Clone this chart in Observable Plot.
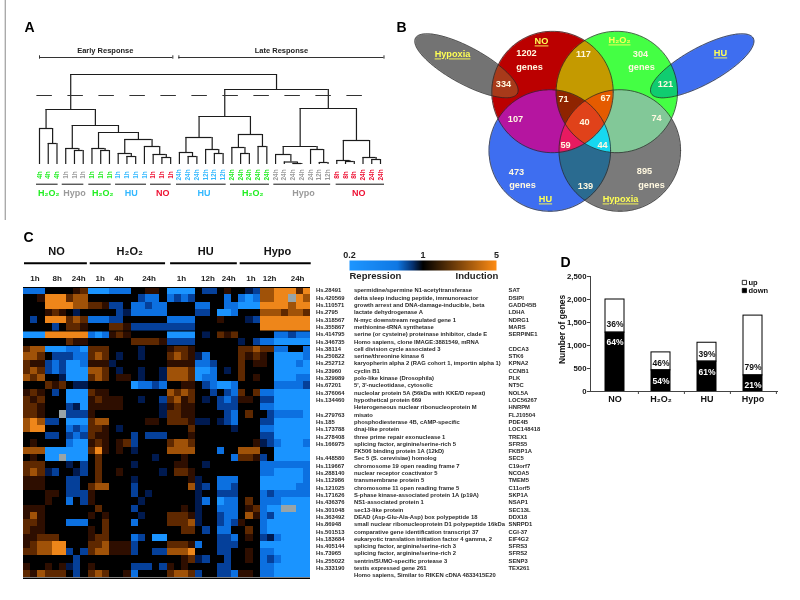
<!DOCTYPE html>
<html><head><meta charset="utf-8">
<script src="https://cdn.jsdelivr.net/npm/d3@7"></script>
<script src="https://cdn.jsdelivr.net/npm/@observablehq/plot@0.6"></script>
<style>
html,body{margin:0;background:#fff}
#page{position:relative;width:800px;height:600px;overflow:hidden;filter:blur(.35px)}
#page svg{position:absolute;left:0;top:0;overflow:visible}
.ul text{text-decoration:underline}
</style></head><body><div id="page"></div>
<script>
const FONT = "Liberation Sans, Arial, sans-serif";
/* ---------- Panel A: dendrogram ---------- */
const leafTimes = ["4h","4h","4h","1h","1h","1h","1h","1h","1h","1h","1h","1h","1h","1h","1h","1h",
 "24h","24h","24h","12h","12h","12h","24h","24h","24h","24h","24h","24h","24h","24h","24h","24h","12h","12h",
 "8h","8h","8h","24h","24h","24h"];
const leafGroups = ["H","H","H","Y","Y","Y","H","H","H","U","U","U","U","N","N","N",
 "U","U","U","U","U","U","H","H","H","H","H","Y","Y","Y","Y","Y","Y","Y","N","N","N","N","N","N"];
const treatColors = {H:"#22ee22",Y:"#9a9a9a",U:"#33b8ff",N:"#ee1133"};
// [height, left, right]; integers are leaves
const dendrogram = [90,
 [55,[36,0,[21,1,2]],
  [39,[16,3,[14,4,5]],
   [32,[16,6,[14,7,8]],
    [25,[11,9,[8,10,11]],[18,12,[10,13,[7,14,15]]]]]]],
 [75,
  [48,[27,[12,16,[8,17,18]],[15,19,[11,20,21]]],
      [30,[17,22,[11,23,24]],[18,25,26]]],
  [56,[18,[10,27,[2.5,28,[1,29,30]]],[15,31,[2,32,33]]],
      [24,[4,34,[3,35,36]],[7,37,[5,38,39]]]]]];
const groupSpans = [[-.34,2.13],[2.6,5.07],[5.64,8.2],[8.7,12.24],[12.7,15.06],[15.67,21.35],[21.84,26.3],[26.8,33.3],[33.93,39.46]];
const groupNames = ["H₂O₂","Hypo","H₂O₂","HU","NO","HU","H₂O₂","Hypo","NO"];
const groupKeys  = ["H","Y","H","U","N","U","H","Y","N"];
const groupCenters = [1.07,4,7.24,10.5,14.1,18.8,24.4,30.2,36.5];
const responseNames = ["Early Response","Late Response"];
const responseSpans = [[0,15.25],[15.94,39.4]];

const verts=[], hors=[];
(function walk(n){
  if (typeof n==="number") return {x:n,h:0};
  const a=walk(n[1]), b=walk(n[2]);
  verts.push({x:a.x,y1:a.h,y2:n[0]},{x:b.x,y1:b.h,y2:n[0]});
  hors.push({y:n[0],x1:a.x,x2:b.x});
  return {x:(a.x+b.x)/2,h:n[0]};
})(dendrogram);

const base = {width:800,height:600,style:{background:"transparent",fontFamily:FONT}};
const add = o => document.getElementById("page").append(Plot.plot({...base,...o}));

add({marginLeft:39,marginRight:420,marginTop:74,marginBottom:436,
 x:{domain:[0,39],axis:null},y:{domain:[0,90],axis:null},
 marks:[
  Plot.ruleX([-3.92],{y1:164,y2:-56,stroke:"#8a8a8a",strokeWidth:1}),
  Plot.ruleX(verts,{x:"x",y1:"y1",y2:"y2",stroke:"#1c1c1c",strokeWidth:1.2}),
  Plot.ruleY(hors,{y:"y",x1:"x1",x2:"x2",stroke:"#1c1c1c",strokeWidth:1.2}),
  Plot.ruleY([69],{x1:-.3,x2:37.4,stroke:"#333",strokeWidth:1.1,strokeDasharray:"15.5,15.5"}),
  Plot.text(leafTimes,{x:(d,i)=>i,y:-10.5,text:d=>d,rotate:-90,fontSize:6.5,fontWeight:"bold",fill:(d,i)=>treatColors[leafGroups[i]]}),
  Plot.ruleY(groupSpans,{y:-19.7,x1:d=>d[0],x2:d=>d[1],stroke:"#111",strokeWidth:1}),
  Plot.text(groupNames,{x:(d,i)=>groupCenters[i],y:-29,text:d=>d,fontSize:9,fontWeight:"bold",fill:(d,i)=>treatColors[groupKeys[i]]}),
  Plot.ruleY(responseSpans,{y:107,x1:d=>d[0],x2:d=>d[1],stroke:"#333",strokeWidth:1}),
  Plot.ruleX(responseSpans.flat(),{x:d=>d,y1:105.3,y2:108.7,stroke:"#333",strokeWidth:1}),
  Plot.text(responseNames,{x:(d,i)=>(responseSpans[i][0]+responseSpans[i][1])/2-(i?0:.1),y:114,text:d=>d,fontSize:7.5,fontWeight:"bold",fill:"#222"})
 ]});

/* ---------- Panel B: Venn ---------- */
const vennCircles = [
 {k:1,cx:552,cy:91.5,r:60.7},   // NO
 {k:2,cx:616.3,cy:91.5,r:60.7}, // H2O2
 {k:4,cx:549.3,cy:150,r:60.8},  // HU
 {k:8,cx:619.3,cy:150,r:60.8}]; // Hypoxia
const vennEllipses = [
 {k:16,cx:466,cy:65.3,a:58,b:18.3,t:28.5},
 {k:32,cx:701.7,cy:65.3,a:58,b:18.3,t:-28.5}];
const regionColors = {0:"#ffffff",1:"#bb0000",2:"#44ff44",3:"#c49a00",4:"#3e6ef0",5:"#b515a0",6:"#e0421a",
 7:"#8f2400",8:"#7a7a7a",9:"#c00000",10:"#82c898",11:"#e55b00",12:"#2a6b90",13:"#e81a60",14:"#16d8f0",15:"#e0421a",
 16:"#737373",17:"#a83a1a",32:"#3e6ef0",34:"#10cc70"};
const regionAt = (x,y)=>{
  let c=0;
  for (const e of vennCircles) if (Math.hypot(x-e.cx,y-e.cy)<=e.r) c+=e.k;
  for (const e of vennEllipses){
    const t=e.t*Math.PI/180,dx=x-e.cx,dy=y-e.cy;
    const u=dx*Math.cos(t)+dy*Math.sin(t),v=-dx*Math.sin(t)+dy*Math.cos(t);
    if (u*u/(e.a*e.a)+v*v/(e.b*e.b)<=1) c+=e.k;
  }
  return regionColors[c]||"#ffffff";
};
const shapeOutline = s => d3.range(0,361,4).map(d=>{
  const p=d*Math.PI/180,a=s.a||s.r,b=s.b||s.r,t=(s.t||0)*Math.PI/180;
  return {id:s.k,x:s.cx+a*Math.cos(p)*Math.cos(t)-b*Math.sin(p)*Math.sin(t),y:s.cy+a*Math.cos(p)*Math.sin(t)+b*Math.sin(p)*Math.cos(t)};
});
const outlines = [...vennCircles,...vennEllipses].flatMap(shapeOutline);
const vennText = ["1202","genes","304","genes","473","genes","895","genes","334","117","121","71","67","40","107","74","59","44","139"];
const vennTextX = [526,529,640,641,516,522,644,651,503,583,665,563,605,584,515,656,565,602,585];
const vennTextY = [53,67,54,67,172,185,171,185,84,54,84,99,98,122,119,118,145,145,186];
const vennNames = ["NO","H₂O₂","Hypoxia","HU","HU","Hypoxia"];
const vennNameX = [541,619,452,720,545,620];
const vennNameY = [41,40,54,53,199,199];
add({marginLeft:0,marginRight:0,marginTop:0,marginBottom:0,
 x:{domain:[0,800],axis:null},y:{domain:[0,600],axis:null,reverse:true},color:{type:"identity"},
 marks:[
  Plot.raster({fill:regionAt,x1:390,x2:780,y1:20,y2:220,pixelSize:.5}),
  Plot.line(outlines,{x:"x",y:"y",z:"id",stroke:"#222",strokeWidth:.7}),
  Plot.text(vennText,{x:(d,i)=>vennTextX[i],y:(d,i)=>vennTextY[i],text:d=>d,fontSize:9.2,fontWeight:"bold",fill:"#fff8e0"}),
  Plot.text(vennNames,{x:(d,i)=>vennNameX[i],y:(d,i)=>vennNameY[i],text:d=>d,fontSize:9.2,fontWeight:"bold",fill:"#ffff55",className:"ul"})
 ]});

/* ---------- Panel C: heatmap ---------- */
// . black, 1-4 induction levels, a-d repression levels, x missing
const heatRows = [
"ccc ... .12 ddd ccc ..11. dddd .bb .1. .ab 3344424",
"..1 444 233 ... ... .bcc. cbcb ... .c. cdc 3344x43",
"... 444 433 221 bb. ccbcc .... cc. .cc ddd 4444344",
"... 121 .a. ... .ba ccccc .... bb. ddc ... 3332332",
".b. 444 232 ccc bb. ..... cccc ... 1.. .ab 4444444",
"... .b. 221 ... 221 bbbbb bbbb ... ... ... 4444444",
"ddd 444 444 cdc 121 ..... dddd .a. 212 ... ..ccbcc",
"... ... 211 ... ... 22221 bbbb ... ... a.b ccddddd",
"233 ddd ccd 222 ... .a... 1221 ... ... 223 22cc..c",
"332 .bb bcc 232 .a. .a... 2321 ac. ... 212 1.ddddc",
"211 bcb ddc 111 a.. ..... 1111 ccb ... 2.1 1.dddcd",
"232 bcb ddd 332 .a. .a..a 3332 ddc .a. 2.. ..ddddd",
"323 ..a ddd 232 .11 .a..a 3332 dcc ... 2.1 ..dddcc",
"... 212 .aa ... ... dccbc ..11 .bc ddc ... ..ccccb",
"121 .b. ddd 211 ... ..... 3232 ..b .bc 2.2 ccddddd",
"212 ... ddd 121 11. .a..b 2312 .a. bcb 11. bbddddd",
"221 ... bad 111 11. ....a 1211 ... bbb ... ccddddd",
"221 ..x bbb 1.. ... ....a 2211 ... .bc .2. .bccccd",
"343 bb. ddd 233 ... ..11. 2221 aa. abc ... bbddddd",
"344 ... cbc 221 .a. ..... ...2 ... ..a ... ccddddd",
"... bb. bcb 211 ... b.bbb ...1 ... ... ... bbddddd",
".1. ... cdd 121 .12 b.... 2332 ... ... ..1 abcdddc",
"333 ddd ddd 241 .1. a.... 3333 ... c.. 333 ..ddddd",
".1. ddx ddd .2. ... ...a. ..1. ... ..c 221 b.ddddd",
"222 ... a.b .2. ... a.... .11. .a. ... ... ccccccc",
"232 ab. .ab .2. .1. ....a .221 ... ... ... ccddddc",
"111 ... bb. .2. ... a.... ...1 a.. ccc ... ddddddc",
"111 ... bb. 233 ... b.... ...3 ab. ccb ... dddddcc",
"... 11. bbb 1.. ... b.a.. .... a.. bbb ... cbccccc",
"... 1.. c.b 1.. ... .a... .... ac. dcc .2. cccdddd",
"111 ... ... .2. ... b.... ..1. a.. ccc .12 cddxxdd",
"131 ... ... 1.1 ... .a... 2221 a.. bcc .31 cbddddd",
"221 ... ccc ..2 ... c.... 2223 a.. bcb 1.. cdddddd",
"211 ... ... 1.2 ... ..... ..22 .b. cc. .2. cdddddd",
"112 22. ... 122 ... cb.dd .... ... bbc .1. bacdddd",
"123 344 ... 223 111 b.... 2221 c.. bbb ... ddddddd",
"223 344 b.b 233 111 b..bb 3334 ... bb. .1. ccddddd",
"... ... .b. ... ... ..... ..12 ab. .b. .1. cbcdddd",
"1.. 1.1 ab. 1.. ... bbb.b 1.1. ... bb. ... ccddddd",
"213 222 .b. 232 ..1 c.... 2332 b.. bbc 11. ccddddd"];
const levelValue = {".":0,"1":1,"2":2,"3":3,"4":4,a:-1,b:-2,c:-3,d:-4};
const heatCells = heatRows.flatMap((r,row)=>[...r.replace(/ /g,"")].map((ch,col)=>({row,col,ch,v:levelValue[ch]})));
const colorDomain=[-4,-3,-2,-1,0,1,2,3,4];
const colorRange=["#1a94ff","#0c70e0","#05409a","#001a50","#000000","#2e0e00","#5e2800","#a05208","#ee861a"];
const rowBreaks=[0,6,8];
const condNames=["NO","H₂O₂","HU","Hypo"], condX=[4.6,14.8,25.4,35.4];
const condSpans=[[.14,8.9],[9.3,19.8],[20.5,29.8],[30.2,40.1]];
const timeNames=["1h","8h","24h","1h","4h","24h","1h","12h","24h","1h","12h","24h"];
const timeX=[1.6,4.7,7.7,10.7,13.3,17.5,22,25.7,28.6,31.7,34.3,38.2];
add({marginLeft:23,marginRight:490,marginTop:287,marginBottom:23,
 x:{domain:[0,40],axis:null},y:{domain:[0,40],axis:null,reverse:true},
 color:{type:"linear",domain:colorDomain,range:colorRange,interpolate:"rgb"},
 marks:[
  Plot.rect(heatCells.filter(d=>d.ch!=="x"),{x1:"col",x2:d=>d.col+1,y1:"row",y2:d=>d.row+1,fill:"v",shapeRendering:"crispEdges"}),
  Plot.rect(heatCells.filter(d=>d.ch==="x"),{x1:"col",x2:d=>d.col+1,y1:"row",y2:d=>d.row+1,fill:"#98a4a8",shapeRendering:"crispEdges"}),
  Plot.ruleY(rowBreaks,{x1:0,x2:40,stroke:"#000",strokeWidth:1.2}),
  Plot.ruleY([40.1],{x1:0,x2:40,stroke:"#000",strokeWidth:1.6}),
  Plot.ruleY(condSpans,{y:-3.35,x1:d=>d[0],x2:d=>d[1],stroke:"#000",strokeWidth:2}),
  Plot.text(condNames,{x:(d,i)=>condX[i],y:-5,text:d=>d,fontSize:11,fontWeight:"bold",fill:"#111"}),
  Plot.text(timeNames,{x:(d,i)=>timeX[i],y:-1.3,text:d=>d,fontSize:8,fontWeight:"bold",fill:"#222"})
 ]});

/* colour key */
const keyLabels=["0.2","1","5"], keyValues=[-4,0,4], keyAnchors=["start","middle","end"];
const keyDomain=[-4,-1.4,-.55,0,4], keyRange=["#1e96ff","#0f78e4","#05306e","#000000","#ff8c14"];
add({marginLeft:349,marginRight:304,marginTop:260,marginBottom:330,
 x:{domain:[-4,4],axis:null},y:{domain:[0,1],axis:null},
 color:{type:"linear",domain:keyDomain,range:keyRange,interpolate:"rgb"},
 marks:[
  Plot.raster({fill:(x,y)=>x,x1:-4,x2:4,y1:0,y2:1,pixelSize:1}),
  Plot.text(keyLabels,{x:(d,i)=>keyValues[i],y:1.5,text:d=>d,textAnchor:(d,i)=>keyAnchors[i],fontSize:9,fontWeight:"bold",fill:"#222"}),
  Plot.text(["Repression"],{x:-4,y:-.5,text:d=>d,textAnchor:"start",fontSize:9.5,fontWeight:"bold",fill:"#222"}),
  Plot.text(["Induction"],{x:4.1,y:-.5,text:d=>d,textAnchor:"end",fontSize:9.5,fontWeight:"bold",fill:"#222"})
 ]});

/* gene table */
const geneIds=["Hs.28491","Hs.420569","Hs.110571","Hs.2795","Hs.318567","Hs.355867","Hs.414795","Hs.346735","Hs.38114","Hs.250822","Hs.252712","Hs.23960","Hs.329989","Hs.67201","Hs.376064","Hs.134460","","Hs.279763","Hs.185","Hs.173788","Hs.278408","Hs.166975","","Hs.448580","Hs.119667","Hs.288140","Hs.112986","Hs.121025","Hs.171626","Hs.436376","Hs.301048","Hs.363492","Hs.86948","Hs.501513","Hs.183684","Hs.405144","Hs.73965","Hs.255022","Hs.333190",""];
const geneNames=["spermidine/spermine N1-acetyltransferase","delta sleep inducing peptide, immunoreactor","growth arrest and DNA-damage-inducible, beta","lactate dehydrogenase A","N-myc downstream regulated gene 1","methionine-tRNA synthetase","serine (or cysteine) proteinase inhibitor, clade E","Homo sapiens, clone IMAGE:3881549, mRNA","cell division cycle associated 3","serine/threonine kinase 6","karyopherin alpha 2 (RAG cohort 1, importin alpha 1)","cyclin B1","polo-like kinase (Drosophila)","5', 3'-nucleotidase, cytosolic","nucleolar protein 5A (56kDa with KKE/D repeat)","hypothetical protein 669","Heterogeneous nuclear ribonucleoprotein M","misato","phosphodiesterase 4B, cAMP-specific","dnaj-like protein","three prime repair exonuclease 1","splicing factor, arginine/serine-rich 5","FK506 binding protein 1A (12kD)","Sec 5 (S. cerevisiae) homolog","chromosome 19 open reading frame 7","nuclear receptor coactivator 5","transmembrane protein 5","chromosome 11 open reading frame 5","S-phase kinase-associated protein 1A (p19A)","NS1-associated protein 1","sec13-like protein","DEAD (Asp-Glu-Ala-Asp) box polypeptide 18","small nuclear ribonucleoprotein D1 polypeptide 16kDa","comparative gene identification transcript 37","eukaryotic translation initiation factor 4 gamma, 2","splicing factor, arginine/serine-rich 3","splicing factor, arginine/serine-rich 2","sentrin/SUMO-specific protease 3","testis expressed gene 261","Homo sapiens, Similar to RIKEN cDNA 4833415E20"];
const geneSymbols=["SAT","DSIPI","GADD45B","LDHA","NDRG1","MARS","SERPINE1","","CDCA3","STK6","KPNA2","CCNB1","PLK","NT5C","NOL5A","LOC56267","HNRPM","FLJ10504","PDE4B","LOC148418","TREX1","SFRS5","FKBP1A","SEC5","C19orf7","NCOA5","TMEM5","C11orf5","SKP1A","NSAP1","SEC13L","DDX18","SNRPD1","CGI-37","EIF4G2","SFRS3","SFRS2","SENP3","TEX261",""];
const tableColumns=[[geneIds,315.5],[geneNames,353.5],[geneSymbols,508]];
add({marginLeft:0,marginRight:0,marginTop:290,marginBottom:25,
 x:{domain:[0,800],axis:null},y:{domain:[0,39],axis:null,reverse:true},
 marks:tableColumns.map(([col,x])=>Plot.text(col,{x,y:(d,i)=>i,text:d=>d,textAnchor:"start",fontSize:5.85,fontWeight:"bold",fill:"#2a2a2a"}))});

/* ---------- Panel D: stacked bars ---------- */
const barCats=["NO","H₂O₂","HU","Hypo"];
const downCounts=[1280,460,650,350];
const totalCounts=[2000,850,1060,1650];
const upPct=["36%","46%","39%","79%"], downPct=["64%","54%","61%","21%"];
const upLabelY=[1463,609,819,537], downLabelY=[1065,217,420,130];
add({marginLeft:590,marginRight:23,marginTop:276,marginBottom:209,
 x:{domain:barCats,paddingInner:.583,paddingOuter:.2915,align:.5},y:{domain:[0,2500]},
 marks:[
  Plot.barY(barCats,{x:d=>d,y1:(d,i)=>downCounts[i],y2:(d,i)=>totalCounts[i],fill:"#fff",stroke:"#000",strokeWidth:1}),
  Plot.barY(barCats,{x:d=>d,y1:0,y2:(d,i)=>downCounts[i],fill:"#000",stroke:"#000",strokeWidth:1}),
  Plot.text(upPct,{x:(d,i)=>barCats[i],y:(d,i)=>upLabelY[i],text:d=>d,fontSize:8.5,fontWeight:"bold",fill:"#111"}),
  Plot.text(downPct,{x:(d,i)=>barCats[i],y:(d,i)=>downLabelY[i],text:d=>d,fontSize:8.5,fontWeight:"bold",fill:"#fff"}),
  Plot.axisY({ticks:[0,500,1000,1500,2000,2500],tickSize:3,tickPadding:1,fontSize:7.8,fontWeight:"bold",label:null,stroke:"#444",fill:"#111"}),
  Plot.frame({anchor:"left",stroke:"#444"}),
  Plot.frame({anchor:"bottom",stroke:"#444"}),
  Plot.ruleX(barCats,{x:d=>d,dx:23.4,y1:0,y2:-65,stroke:"#444"}),
  Plot.axisX({tickSize:0,tickPadding:4,fontSize:9,fontWeight:"bold",label:null,fill:"#111"}),
  Plot.text(["Number of genes"],{x:()=>"NO",y:1350,text:d=>d,rotate:-90,dx:-52.5,fontSize:8.5,fontWeight:"bold",fill:"#111"}),
  Plot.dot(["up","down"],{x:()=>"Hypo",y:(d,i)=>[2370,2195][i],symbol:"square",r:2.4,dx:-8.6,stroke:"#000",strokeWidth:.8,fill:(d,i)=>i?"#000":"#fff"}),
  Plot.text(["up","down"],{x:()=>"Hypo",y:(d,i)=>[2370,2195][i],text:d=>d,dx:-4.5,textAnchor:"start",fontSize:7.5,fontWeight:"bold",fill:"#111"})
 ]});

/* ---------- Panel letters ---------- */
const panelLetters=["A","B","C","D"], letterX=[29,401,28,565], letterY=[27,27,237,262];
add({marginLeft:0,marginRight:0,marginTop:0,marginBottom:0,
 x:{domain:[0,800],axis:null},y:{domain:[0,600],axis:null,reverse:true},
 marks:[Plot.text(panelLetters,{x:(d,i)=>letterX[i],y:(d,i)=>letterY[i],text:d=>d,fontSize:14,fontWeight:"bold",fill:"#000"})]});
</script></body></html>
